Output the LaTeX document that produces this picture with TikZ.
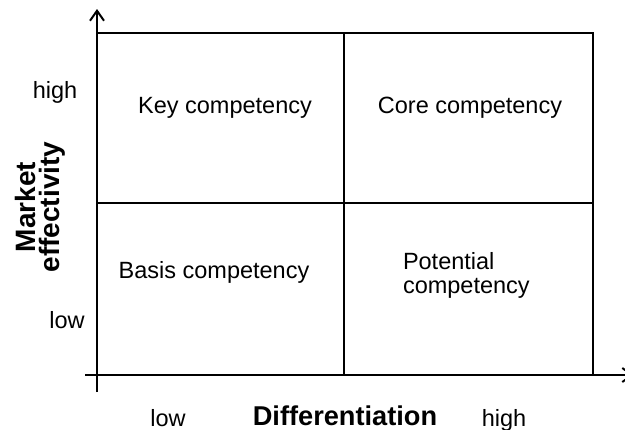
\documentclass[tikz,border=0pt]{standalone}
\usepackage{fontspec}
\setmainfont{Liberation Sans}
\usetikzlibrary{arrows.meta}
\newcommand{\lbl}{\fontsize{11.75}{14}\selectfont}
\newcommand{\ttl}{\fontsize{13.6}{14}\selectfont\bfseries}
\newcommand{\ytl}{\fontsize{14}{13}\selectfont\bfseries}

\begin{document}
\begin{tikzpicture}[x=0.5pt,y=-0.5pt,line width=1pt]
   \useasboundingbox (0,0) rectangle (625,429);
   % frame of the matrix
   \coordinate (nw) at (97,33);
   \coordinate (se) at (593,375);
   \draw (nw) rectangle (se);
   \draw (344,33) -- (344,375);
   \draw (97,203) -- (593,203);
   % axes
   \coordinate (ybot) at (97,392);
   \coordinate (ytop) at (97,9);
   \coordinate (xleft) at (85,375);
   \coordinate (xright) at (634,375);
   \draw[-{Straight Barb[length=5pt,width=7pt]}] (ybot) -- (ytop);
   \draw[-{Straight Barb[length=5pt,width=7pt]}] (xleft) -- (xright);
   % quadrants
   \node[anchor=base] (key) at (225,113) {\lbl Key competency};
   \node[anchor=base] (core) at (470,113) {\lbl Core competency};
   \node[anchor=base] (basis) at (214,278) {\lbl Basis competency};
   \node[anchor=base west,align=left,inner sep=0pt] (pot) at (402,293) {\lbl Potential\\\lbl competency};
   % axis labels
   \node[anchor=base] (yhigh) at (55,98) {\lbl high};
   \node[anchor=base] (ylow) at (67,328) {\lbl low};
   \node[rotate=90,align=center] (ytitle) at (40,207) {\ytl Market\\\ytl effectivity};
   \node[anchor=base] (xlow) at (168,426) {\lbl low};
   \node[anchor=base] (xtitle) at (345,425) {\ttl Differentiation};
   \node[anchor=base] (xhigh) at (504,426) {\lbl high};
\end{tikzpicture}
\end{document}
